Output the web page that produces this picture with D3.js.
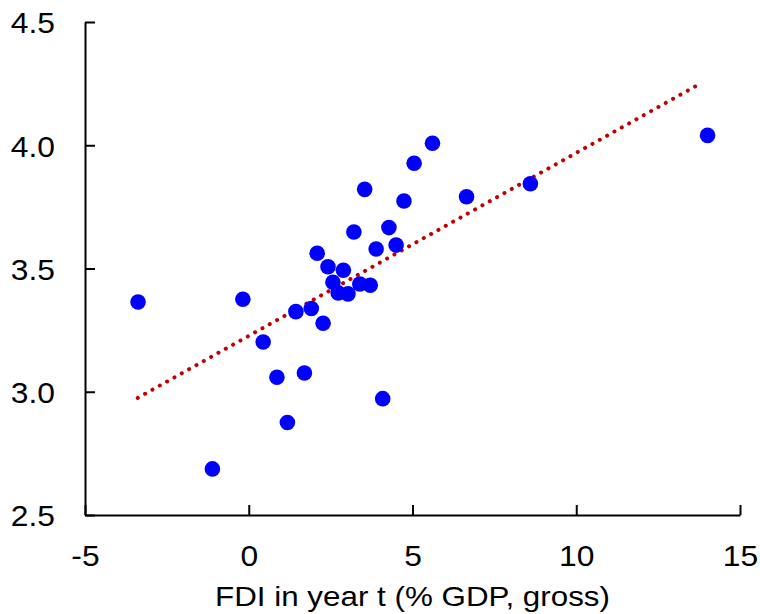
<!DOCTYPE html>
<html>
<head>
<meta charset="utf-8">
<script src="https://cdn.jsdelivr.net/npm/d3@7"></script>
<style>
  body { margin: 0; background: #fff; }
  svg text { font-family: "Liberation Sans", Arial, sans-serif; fill: #000; }
</style>
</head>
<body>
<svg id="chart"></svg>
<script>
// FDI (x) vs y value
let fdi = [-3.38, -0.18, 5.61, 5.05, 3.54, 4.74, 3.21, 4.28, 3.89, 4.50,
    2.09, 2.42, 2.89, 2.57, 3.39, 3.71, 2.73, 3.03, 1.44, 1.91,
    2.27, 0.44, 0.86, 1.70, 4.09, 1.18, -1.11, 6.65, 8.60, 14.01]
let yVals = [3.364, 3.375, 4.008, 3.927, 3.821, 3.774, 3.648, 3.666, 3.579, 3.595,
    3.562, 3.507, 3.493, 3.444, 3.437, 3.432, 3.401, 3.397, 3.325, 3.338,
    3.278, 3.202, 3.059, 3.076, 2.972, 2.875, 2.687, 3.791, 3.844, 4.040]

// dotted trend line end points
let trendX = [-3.39, 13.80]
let trendY = [2.975, 4.251]

let xTicks = [-5, 0, 5, 10, 15]
let xTickLabels = ["-5", "0", "5", "10", "15"]
let yTicks = [2.5, 3.0, 3.5, 4.0, 4.5]
let xTitle = "FDI in year t (% GDP, gross)"

let width = 760
let height = 614
let plot = { left: 85, right: 740, top: 22, bottom: 515 }

// the original text looks a bit wide, so stretch it sideways
let tickStretch = 1.06
let titleStretch = 1.12

let svg = d3.select("#chart")
    .attr("width", width)
    .attr("height", height)

let x = d3.scaleLinear()
    .domain([-5, 15])
    .range([plot.left, plot.right])

let y = d3.scaleLinear()
    .domain([2.5, 4.5])
    .range([plot.bottom, plot.top])

let xAxis = d3.axisBottom(x)
    .tickValues(xTicks)
    .tickFormat(function (d, i) { return xTickLabels[i] })
    .tickSizeInner(-10)
    .tickSizeOuter(0)

let yAxis = d3.axisLeft(y)
    .tickValues(yTicks)
    .tickFormat(d3.format(".1f"))
    .tickSizeInner(-10)
    .tickSizeOuter(0)

let gx = svg.append("g")
    .attr("transform", "translate(0," + plot.bottom + ")")
    .call(xAxis)

gx.selectAll("text")
    .attr("y", 51)
    .attr("dy", null)

let gy = svg.append("g")
    .attr("transform", "translate(" + plot.left + ",0)")
    .call(yAxis)

gy.selectAll("text")
    .attr("x", -30 / tickStretch)
    .attr("dy", "0.36em")

svg.selectAll(".domain, .tick line")
    .attr("stroke", "#000")
    .attr("stroke-width", 2)

svg.selectAll(".tick text")
    .attr("font-size", 30)
    .attr("font-family", null)
    .attr("transform", "scale(" + tickStretch + ",1)")

// trend line
svg.append("line")
    .attr("x1", x(trendX[0]))
    .attr("y1", y(trendY[0]))
    .attr("x2", x(trendX[1]))
    .attr("y2", y(trendY[1]))
    .attr("stroke", "#c00000")
    .attr("stroke-width", 4)
    .attr("stroke-linecap", "round")
    .attr("stroke-dasharray", "0.1 8.3")

svg.selectAll(".dot")
    .data(fdi)
    .enter()
    .append("circle")
    .attr("class", "dot")
    .attr("cx", function (d) { return x(d) })
    .attr("cy", function (d, i) { return y(yVals[i]) })
    .attr("r", 7.8)
    .attr("fill", "#0000ff")

svg.append("text")
    .attr("transform", "translate(" + (plot.left + plot.right) / 2 + ",606) scale(" + titleStretch + ",1)")
    .attr("text-anchor", "middle")
    .attr("font-size", 28)
    .text(xTitle)
</script>
</body>
</html>
